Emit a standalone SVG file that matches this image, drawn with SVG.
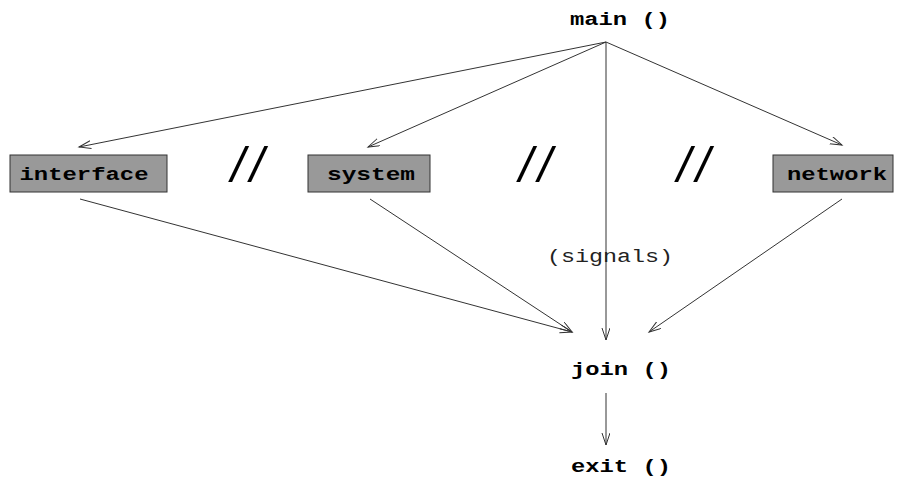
<svg xmlns="http://www.w3.org/2000/svg" width="902" height="477" viewBox="0 0 902 477">
<style>
.lbl{font-family:"Liberation Mono","Courier New",monospace;font-weight:bold;font-size:19px;fill:#000;text-anchor:middle}
.sig{font-family:"Liberation Mono","Courier New",monospace;font-size:19px;fill:#222;text-anchor:middle}
.box{fill:#999;stroke:#333;stroke-width:1}
.sep{font-family:"Liberation Sans",Arial,sans-serif;font-style:italic;font-size:50px;letter-spacing:5px;fill:#000;text-anchor:middle}
.edge{fill:none;stroke:#333;stroke-width:1;marker-end:url(#ah)}
</style>
<defs>
<marker id="ah" markerUnits="userSpaceOnUse" markerWidth="14" markerHeight="10" refX="12" refY="4" orient="auto">
<path d="M0,0 L12,4 L0,8" fill="none" stroke="#333" stroke-width="1"/>
</marker>
</defs>
<rect width="902" height="477" fill="#fff"/>
<g id="connectors">
<line class="edge" x1="606" y1="42" x2="79" y2="147"/>
<line class="edge" x1="606" y1="42" x2="368" y2="147"/>
<line class="edge" x1="606" y1="42" x2="842" y2="145"/>
<line class="edge" x1="606" y1="42" x2="606" y2="340"/>
<line class="edge" x1="80" y1="199" x2="572" y2="332"/>
<line class="edge" x1="370" y1="199" x2="572" y2="332"/>
<line class="edge" x1="842" y1="199" x2="649" y2="332"/>
<line class="edge" x1="606" y1="393" x2="606" y2="445"/>
</g>
<g id="main"><text class="lbl" x="620" y="25" textLength="100" lengthAdjust="spacingAndGlyphs">main ()</text></g>
<g id="interface"><rect class="box" x="10" y="155" width="157" height="37"/><text class="lbl" x="84" y="180" textLength="129" lengthAdjust="spacingAndGlyphs">interface</text></g>
<g id="system"><rect class="box" x="308" y="155" width="122" height="37"/><text class="lbl" x="371" y="180" textLength="88" lengthAdjust="spacingAndGlyphs">system</text></g>
<g id="network"><rect class="box" x="773" y="155" width="120" height="37"/><text class="lbl" x="837" y="180" textLength="100" lengthAdjust="spacingAndGlyphs">network</text></g>
<g id="signals"><text class="sig" x="610" y="262" textLength="126" lengthAdjust="spacingAndGlyphs">(signals)</text></g>
<g id="join"><text class="lbl" x="621" y="375" textLength="100" lengthAdjust="spacingAndGlyphs">join ()</text></g>
<g id="exit"><text class="lbl" x="621" y="472" textLength="100" lengthAdjust="spacingAndGlyphs">exit ()</text></g>
<g id="separators">
<text class="sep" x="250" y="182">//</text>
<text class="sep" x="538" y="182">//</text>
<text class="sep" x="696" y="182">//</text>
</g>
</svg>
